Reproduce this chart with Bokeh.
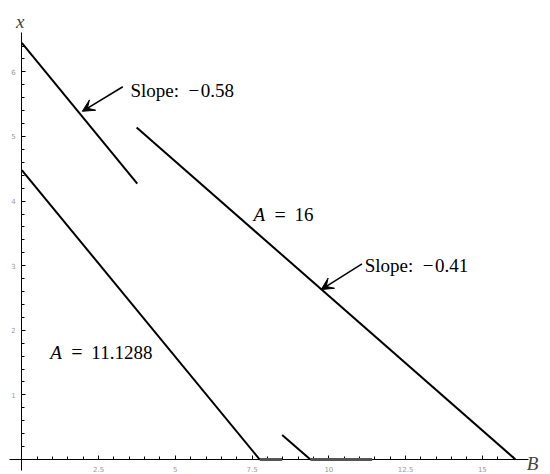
from bokeh.plotting import figure
from bokeh.models import LinearAxis, FixedTicker, Label, Arrow, VeeHead, Range1d
from bokeh.embed import file_html
from bokeh.resources import INLINE

# ---- data ----
seg1_B = [0.0, 3.76]
seg1_x = [6.45, 4.27]
seg2_B = [3.74, 16.08]
seg2_x = [5.14, 0.0]
seg3_B = [0.0, 7.75]
seg3_x = [4.48, 0.0]
seg4_B = [8.48, 9.40]
seg4_x = [0.38, 0.0]
flat1_B = [7.75, 8.48]
flat2_B = [9.40, 11.41]
flat_x = [0.0, 0.0]

x_major = [2.5, 5, 7.5, 10, 12.5, 15]
x_minor = [i * 0.5 for i in range(1, 33)]
y_major = [1, 2, 3, 4, 5, 6]
y_minor = [round(i * 0.2, 2) for i in range(1, 33)]

slope_labels = ["Slope:\u2002\u2212\u200a0.58", "Slope:\u2002\u2212\u200a0.41"]
a_values = ["16", "11.1288"]

SERIF = "'Liberation Serif', 'Times New Roman', serif"

p = figure(width=550, height=474, output_backend="svg", toolbar_location=None,
           x_range=Range1d(-0.694, 17.22), y_range=Range1d(-0.232, 7.105),
           x_axis_type=None, y_axis_type=None, min_border=0,
           outline_line_color=None, background_fill_color="white")


def style_axis(ax):
    ax.axis_line_color = "black"
    ax.axis_line_width = 1
    ax.major_tick_line_color = "black"
    ax.minor_tick_line_color = "black"
    ax.major_tick_in = 4
    ax.major_tick_out = 0
    ax.minor_tick_in = 3
    ax.minor_tick_out = 0
    ax.major_label_text_font = "DejaVu Sans"
    ax.major_label_text_font_size = "7px"
    ax.major_label_text_color = "#999999"
    ax.major_label_standoff = 6


xaxis = LinearAxis(fixed_location=0, bounds=(-0.4, 16.5),
                   ticker=FixedTicker(ticks=x_major, minor_ticks=x_minor))
style_axis(xaxis)
p.add_layout(xaxis, "below")

yaxis = LinearAxis(fixed_location=0, bounds=(-0.17, 6.61),
                   ticker=FixedTicker(ticks=y_major, minor_ticks=y_minor))
style_axis(yaxis)
p.add_layout(yaxis, "left")

for bx, xx in [(seg1_B, seg1_x), (seg2_B, seg2_x), (seg3_B, seg3_x), (seg4_B, seg4_x)]:
    p.line(bx, xx, line_color="black", line_width=2)

for bx in [flat1_B, flat2_B]:
    p.line(bx, flat_x, line_color="#555555", line_width=3, level="overlay")

# arrows
p.add_layout(Arrow(end=VeeHead(size=12, fill_color="black", line_color="black"),
                   x_start=3.29, y_start=5.77, x_end=1.97, y_end=5.39,
                   line_color="black", line_width=1.5))
p.add_layout(Arrow(end=VeeHead(size=12, fill_color="black", line_color="black"),
                   x_start=11.08, y_start=3.03, x_end=9.75, y_end=2.63,
                   line_color="black", line_width=1.5))

# slope labels
p.add_layout(Label(x=3.54, y=5.71, text=slope_labels[0], text_font=SERIF,
                   text_font_size="19px", text_baseline="alphabetic", text_color="black"))
p.add_layout(Label(x=11.17, y=3.01, text=slope_labels[1], text_font=SERIF,
                   text_font_size="19px", text_baseline="alphabetic", text_color="black"))

# A labels
for ax_, ay_, val in [(7.55, 3.79, a_values[0]), (0.93, 1.66, a_values[1])]:
    p.add_layout(Label(x=ax_, y=ay_, text="A", text_font=SERIF, text_font_style="italic",
                       text_font_size="19px", text_baseline="alphabetic", text_color="black"))
    p.add_layout(Label(x=ax_, y=ay_, x_offset=21, text="=", text_font=SERIF,
                       text_font_size="20px", text_baseline="alphabetic", text_color="black"))
    p.add_layout(Label(x=ax_, y=ay_, x_offset=41, text=val, text_font=SERIF,
                       text_font_size="19px", text_baseline="alphabetic", text_color="black"))

# axis names
p.add_layout(Label(x=-0.05, y=6.78, text="x", text_font=SERIF, text_font_style="italic",
                   text_font_size="19px", text_align="center", text_baseline="alphabetic"))
p.add_layout(Label(x=16.45, y=-0.06, text="B", text_font=SERIF, text_font_style="italic",
                   text_font_size="19px", text_baseline="alphabetic"))

open("out.html", "w").write(file_html(p, INLINE))
